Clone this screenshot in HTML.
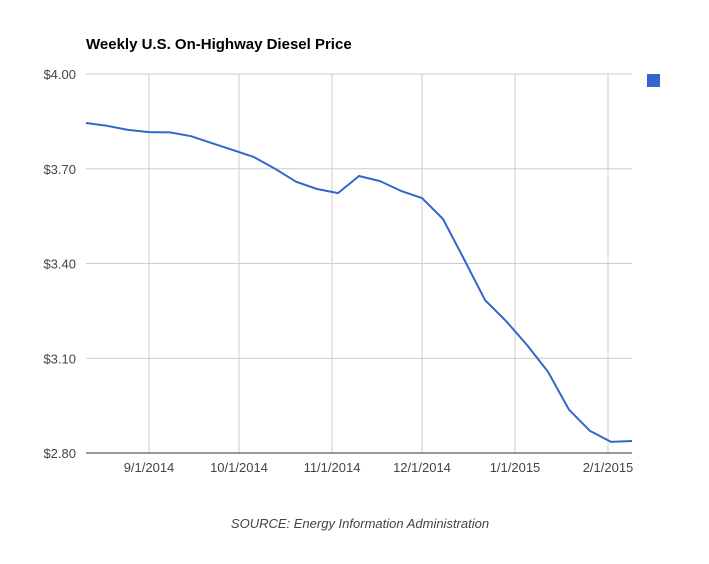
<!DOCTYPE html>
<html><head><meta charset="utf-8"><style>
body{margin:0;background:#fff;font-family:"Liberation Sans",Arial,sans-serif;}
svg text{font-family:"Liberation Sans",Arial,sans-serif;}
</style></head><body>
<svg id="chart" width="709" height="559">
<rect width="709" height="559" fill="#fff"/>
<text x="86" y="49" font-size="15" font-weight="bold" fill="#000">Weekly U.S. On-Highway Diesel Price</text>
<g id="grid"></g>
<g id="plot"></g>
<rect x="647" y="74" width="13" height="13" fill="#3366cc"/>
<text x="360" y="528" font-size="13" font-style="italic" fill="#444" text-anchor="middle">SOURCE: Energy Information Administration</text>
</svg>
<script>
const startDate = "2014-08-11";
const prices = [3.845,3.836,3.823,3.816,3.815,3.803,3.781,3.759,3.737,3.700,3.659,3.636,3.623,3.677,3.661,3.630,3.607,3.541,3.414,3.284,3.218,3.142,3.057,2.937,2.870,2.835,2.838];
const yTicks = [2.80,3.10,3.40,3.70,4.00];
const yTickLabels = ["$2.80","$3.10","$3.40","$3.70","$4.00"];
const xTickDates = ["2014-09-01","2014-10-01","2014-11-01","2014-12-01","2015-01-01","2015-02-01"];
const xTickLabels = ["9/1/2014","10/1/2014","11/1/2014","12/1/2014","1/1/2015","2/1/2015"];

const NS="http://www.w3.org/2000/svg";
const L=86,R=632,T=74,B=453;
const day=864e5;
const t0=Date.parse(startDate);
const tEnd=t0+(prices.length-1)*7*day;
const x=t=>L+(t-t0)/(tEnd-t0)*(R-L);
const y=v=>B-(v-2.8)/(4.0-2.8)*(B-T);
const grid=document.getElementById('grid'),plot=document.getElementById('plot');
function mk(tag,attrs,parent){const e=document.createElementNS(NS,tag);for(const k in attrs)e.setAttribute(k,attrs[k]);parent.appendChild(e);return e;}
yTicks.forEach((v,i)=>{
  const g=mk('line',{x1:L,x2:R,y1:y(v),y2:y(v),stroke:i==0?'#333':'#ccc','stroke-width':1},grid);
  
  
  const t=mk('text',{x:L-10,y:y(v)+5,'font-size':13,fill:'#444','text-anchor':'end'},grid);
  t.textContent=yTickLabels[i];
  
  
});
xTickDates.forEach((d,i)=>{
  const xx=x(Date.parse(d));
  const g=mk('line',{x1:xx,x2:xx,y1:T,y2:B,stroke:'#ccc','stroke-width':1},grid);
  
  
  const t=mk('text',{x:xx,y:B+19,'font-size':13,fill:'#444','text-anchor':'middle'},grid);
  t.textContent=xTickLabels[i];
  
  
});
const base=mk('line',{x1:L,x2:R,y1:B,y2:B,stroke:'#333','stroke-width':1},grid);


const pts=prices.map((v,i)=>x(t0+i*7*day).toFixed(1)+','+y(v).toFixed(1)).join(' ');
const line=mk('polyline',{points:pts,fill:'none',stroke:'#3366cc','stroke-width':2,'stroke-linejoin':'round'},plot);


</script>
</body></html>
